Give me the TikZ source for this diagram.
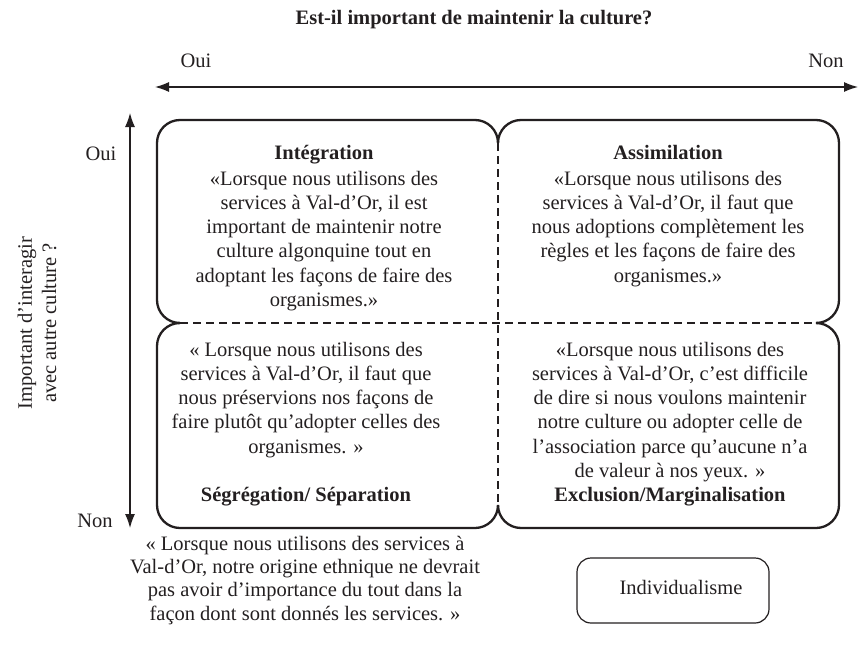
\documentclass[tikz,border=0pt]{standalone}
\usepackage{fontspec}
\setmainfont{Liberation Serif}
\usetikzlibrary{arrows.meta}
\definecolor{ink}{RGB}{35,31,32}
\begin{document}
\begin{tikzpicture}[x=1pt,y=-1pt,
  txt/.style={font=\fontsize{20.5}{24.2}\selectfont, text=ink, align=center, inner sep=0pt},
  btxt/.style={txt, anchor=north},
  lbl/.style={txt, anchor=base},
  outline/.style={draw=ink, line width=2.3pt, rounded corners=23pt},
  sep/.style={draw=ink, line width=2.9pt, dash pattern=on 8pt off 5pt},
  axis/.style={draw=ink, line width=1.2pt, {Latex[length=14pt,width=10pt]}-{Latex[length=14pt,width=10pt]}}
]
\useasboundingbox (0,0) rectangle (859,645);

% title and axis labels
\node[lbl, font=\fontsize{20.5}{24.2}\selectfont\bfseries] (title) at (474,24.5) {Est-il important de maintenir la culture?};
\node[lbl] (ouiH) at (196,67) {Oui};
\node[lbl] (nonH) at (826,67) {Non};
\node[lbl] (ouiV) at (101,160) {Oui};
\node[lbl] (nonV) at (95,527) {Non};
\node[txt, rotate=90] (vlabel) at (37,323) {Important d’interagir\\avec autre culture ?};

% axes
\coordinate (hL) at (155,87);
\coordinate (hR) at (858,87);
\coordinate (vT) at (130,113);
\coordinate (vB) at (130,528);
\draw[axis] (hL) -- (hR);
\draw[axis] (vT) -- (vB);

% quadrant outlines
\path[outline] (498,143) -- (498,120) -- (157,120) -- (157,323) -- (180,323);
\path[outline] (498,143) -- (498,120) -- (839,120) -- (839,323) -- (816,323);
\path[outline] (180,323) -- (157,323) -- (157,528) -- (498,528) -- (498,505);
\path[outline] (816,323) -- (839,323) -- (839,528) -- (498,528) -- (498,505);
\coordinate (cT) at (498,143);
\coordinate (cB) at (498,505);
\coordinate (cL) at (180,323);
\coordinate (cR) at (816,323);
\path[sep] (cT) -- (cB);
\path[sep] (cL) -- (cR);

% quadrant texts
\node[btxt] (tl) at (324,142.06) {\strut\textbf{Intégration}\\[1.8pt]
«Lorsque nous utilisons des\\
services à Val-d’Or, il est\\
important de maintenir notre\\
culture algonquine tout en\\
adoptant les façons de faire des\\
organismes.»};
\node[btxt] (tr) at (668,142.06) {\strut\textbf{Assimilation}\\[1.8pt]
«Lorsque nous utilisons des\\
services à Val-d’Or, il faut que\\
nous adoptions complètement les\\
règles et les façons de faire des\\
organismes.»};
\node[btxt] (bl) at (306,339.06) {\strut« Lorsque nous utilisons des\\
services à Val-d’Or, il faut que\\
nous préservions nos façons de\\
faire plutôt qu’adopter celles des\\
organismes. »\\[24.4pt]
\textbf{Ségrégation/ Séparation}};
\node[btxt] (br) at (670,339.06) {\strut«Lorsque nous utilisons des\\
services à Val-d’Or, c’est difficile\\
de dire si nous voulons maintenir\\
notre culture ou adopter celle de\\
l’association parce qu’aucune n’a\\
de valeur à nos yeux. »\\
\textbf{Exclusion/Marginalisation}};

% bottom
\node[btxt, font=\fontsize{20.5}{23.3}\selectfont] (bottom) at (305,533.69) {\strut« Lorsque nous utilisons des services à\\
Val-d’Or, notre origine ethnique ne devrait\\
pas avoir d’importance du tout dans la\\
façon dont sont donnés les services. »};
\node[txt, draw=ink, line width=1.2pt, rounded corners=14pt, minimum width=192pt, minimum height=65pt,
  text height=14pt, text depth=7pt] (indiv) at (673,590.5) {\hspace*{16pt}Individualisme};
\end{tikzpicture}
\end{document}
